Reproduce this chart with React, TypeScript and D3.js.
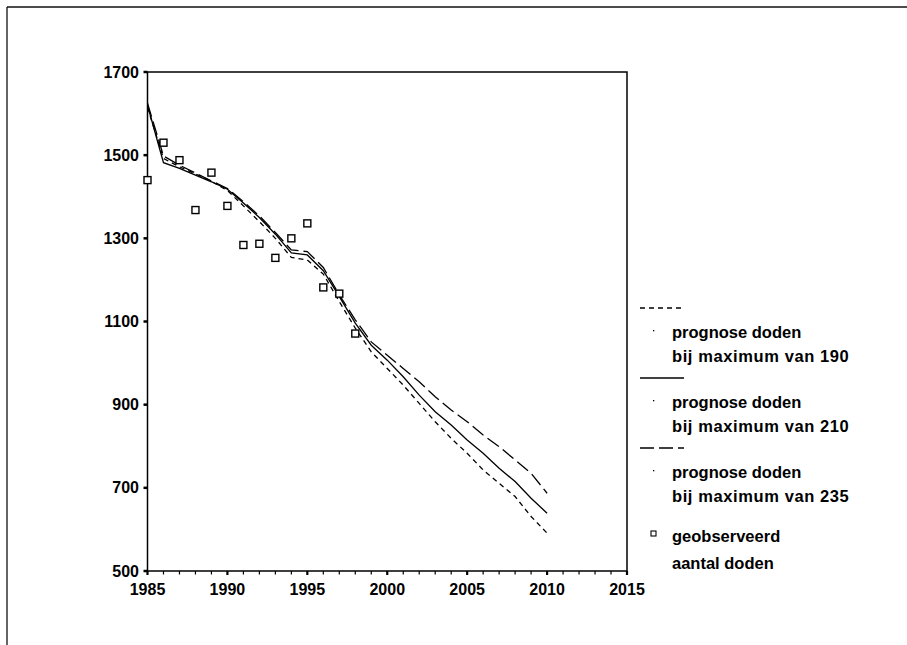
import React from "react";
import * as d3 from "d3";

const years = d3.range(1985, 2011);
const prog190 = [1615, 1492, 1472, 1455, 1437, 1415, 1378, 1340, 1300, 1254, 1248, 1214, 1148, 1084, 1027, 987, 947, 903, 859, 819, 783, 743, 711, 679, 631, 591];
const prog210 = [1620, 1482, 1468, 1452, 1436, 1418, 1385, 1350, 1310, 1265, 1260, 1222, 1160, 1096, 1043, 1007, 967, 923, 883, 851, 815, 783, 747, 715, 675, 639];
const prog235 = [1625, 1498, 1476, 1457, 1438, 1420, 1388, 1354, 1314, 1272, 1268, 1230, 1164, 1104, 1051, 1019, 987, 955, 919, 887, 859, 827, 799, 767, 735, 687];
const obsYears = d3.range(1985, 1999);
const observed = [1440, 1530, 1488, 1368, 1458, 1378, 1284, 1287, 1253, 1300, 1336, 1182, 1167, 1071];
const yTicks = [500, 700, 900, 1100, 1300, 1500, 1700];
const xTicks = [1985, 1990, 1995, 2000, 2005, 2010, 2015];
const legendItems = [
  { dash: "5,4", lines: ["prognose doden", "bij maximum van 190"] },
  { dash: "none", lines: ["prognose doden", "bij maximum van 210"] },
  { dash: "14,5", lines: ["prognose doden", "bij maximum van 235"] },
];

const FONT = "'Liberation Sans', Arial, sans-serif";

export default function App() {
  const x = d3.scaleLinear().domain([1985, 2015]).range([147.5, 627]);
  const y = d3.scaleLinear().domain([500, 1700]).range([571, 72]);
  const line = d3
    .line<number>()
    .x((_, i) => x(years[i]))
    .y((d) => y(d));
  const series = [
    { data: prog190, dash: "5,4" },
    { data: prog210, dash: "none" },
    { data: prog235, dash: "14,5" },
  ];
  const minorYears = d3.range(1985, 2016);
  const legendTop = [308, 378, 448];
  return (
    <svg
      width={907}
      height={645}
      style={{ position: "absolute", left: 0, top: 0, display: "block", background: "#fff" }}
      fontFamily={FONT}
      fontWeight="bold"
    >
      {/* outer frame */}
      <line x1={7} y1={7} x2={907} y2={7} stroke="#111" strokeWidth={1.3} />
      <line x1={7} y1={7} x2={7} y2={645} stroke="#111" strokeWidth={1.3} />

      {/* plot box */}
      <rect x={x(1985)} y={y(1700)} width={x(2015) - x(1985)} height={y(500) - y(1700)} fill="none" stroke="#000" strokeWidth={1.5} />

      {/* y ticks */}
      {yTicks.map((t) => (
        <g key={t}>
          <line x1={x(1985) - 4} x2={x(1985)} y1={y(t)} y2={y(t)} stroke="#000" strokeWidth={2.5} />
          <text x={139} y={y(t)} dy="0.35em" textAnchor="end" fontSize={16}>
            {t}
          </text>
        </g>
      ))}
      {/* x ticks */}
      {minorYears.map((t) => (
        <line key={t} x1={x(t)} x2={x(t)} y1={y(500)} y2={y(500) + (t % 5 === 0 ? 4 : 3.5)} stroke="#000" strokeWidth={t % 5 === 0 ? 2.2 : 1.2} />
      ))}
      {xTicks.map((t) => (
        <text key={t} x={x(t)} y={595} textAnchor="middle" fontSize={16}>
          {t}
        </text>
      ))}

      {/* prognosis lines */}
      {series.map((s, i) => (
        <path key={i} d={line(s.data) || ""} fill="none" stroke="#000" strokeWidth={1.3} strokeDasharray={s.dash} />
      ))}

      {/* observed squares */}
      {observed.map((v, i) => (
        <rect key={i} x={x(obsYears[i]) - 3.5} y={y(v) - 3.5} width={7} height={7} fill="#fff" stroke="#000" strokeWidth={1.4} />
      ))}

      {/* legend */}
      {legendItems.map((it, i) => (
        <g key={i}>
          <line x1={640} x2={684} y1={legendTop[i]} y2={legendTop[i]} stroke="#000" strokeWidth={1.3} strokeDasharray={it.dash} />
          <rect x={653} y={legendTop[i] + 22} width={1.3} height={1.3} fill="#000" />
          <text x={672} y={legendTop[i] + 24} dy="0.35em" fontSize={16.5}>
            {it.lines[0]}
          </text>
          <text x={672} y={legendTop[i] + 48} dy="0.35em" fontSize={16.5} letterSpacing={0.6}>
            {it.lines[1]}
          </text>
        </g>
      ))}
      <rect x={651} y={531} width={5} height={5} fill="#fff" stroke="#000" strokeWidth={1.1} />
      <text x={672} y={536} dy="0.35em" fontSize={16.5}>
        geobserveerd
      </text>
      <text x={672} y={563} dy="0.35em" fontSize={16.5}>
        aantal doden
      </text>
    </svg>
  );
}
